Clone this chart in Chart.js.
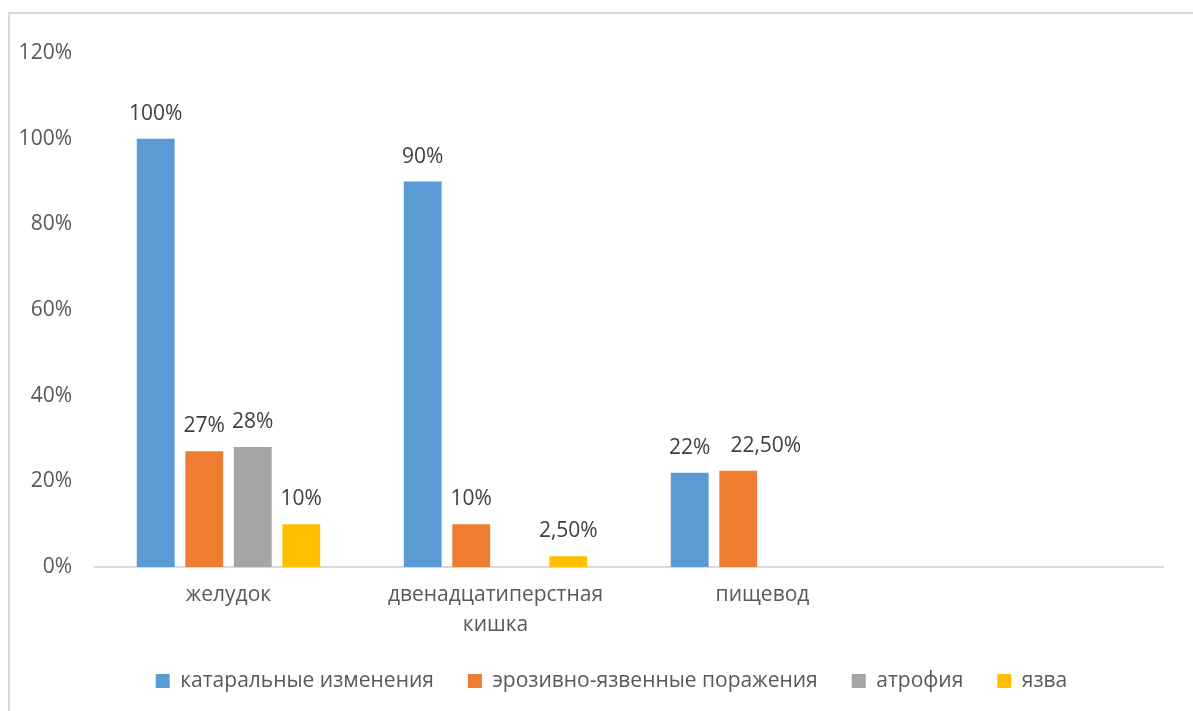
<!DOCTYPE html>
<html>
<head>
<meta charset="utf-8">
<script src="https://cdn.jsdelivr.net/npm/chart.js@4/dist/chart.umd.min.js"></script>
<style>
    html, body { margin: 0; padding: 0; background: #fff; overflow: hidden; }
    body { width: 1193px; height: 711px; position: relative; }
    .frame {
        position: absolute; left: 8px; top: 12px;
        width: 1300px; height: 800px;
        border: 2px solid #d9d9d9;
    }
    #myChart { position: absolute; left: 0; top: 0; }
</style>
</head>
<body>
<div class="frame"></div>
<canvas id="myChart" width="1213" height="711"></canvas>
<script>
    // categories (4th slot is empty on purpose)
    var categories = ['желудок', ['двенадцатиперстная', 'кишка'], 'пищевод', ''];

    var seriesNames = ['катаральные изменения', 'эрозивно-язвенные поражения', 'атрофия', 'язва'];
    var catarrhal = [100, 90, 22, null];
    var erosive = [27, 10, 22.5, null];
    var atrophy = [28, null, null, null];
    var ulcer = [10, 2.5, null, null];

    var yTicks = [0, 20, 40, 60, 80, 100, 120];

    var colors = ['#5b9bd5', '#ed7d31', '#a5a5a5', '#ffc000'];
    var fontFamily = '"Open Sans", sans-serif';

    function pct(v) {
        if (Number.isInteger(v)) return v + '%';
        return v.toFixed(2).replace('.', ',') + '%';
    }

    // value labels above every bar, pushed right if they run into the previous one
    var barLabels = {
        id: 'barLabels',
        afterDatasetsDraw: function (chart) {
            var ctx = chart.ctx;
            ctx.save();
            ctx.font = '21px ' + fontFamily;
            ctx.fillStyle = '#404040';
            ctx.textAlign = 'left';
            ctx.textBaseline = 'alphabetic';
            categories.forEach(function (c, j) {
                var lastRight = -Infinity;
                chart.data.datasets.forEach(function (ds, i) {
                    var v = ds.data[j];
                    if (v === null || v === undefined) return;
                    var bar = chart.getDatasetMeta(i).data[j];
                    var text = pct(v);
                    var w = ctx.measureText(text).width;
                    var left = bar.x - w / 2;
                    if (left < lastRight) left = lastRight + 20;
                    ctx.fillText(text, left, bar.y - 19);
                    lastRight = left + w;
                });
            });
            ctx.restore();
        }
    };

    var dataSets = [catarrhal, erosive, atrophy, ulcer].map(function (values, i) {
        return {
            label: seriesNames[i],
            data: values,
            backgroundColor: colors[i],
            borderWidth: 0,
            categoryPercentage: 0.727,
            barPercentage: 0.78
        };
    });

    var ctx = document.getElementById('myChart').getContext('2d');
    var chart = new Chart(ctx, {
        type: 'bar',
        data: {
            labels: categories,
            datasets: dataSets
        },
        plugins: [barLabels],
        options: {
            responsive: false,
            animation: false,
            devicePixelRatio: 1,
            layout: {
                padding: { left: 10, right: 0, top: 53, bottom: 9.5 }
            },
            plugins: {
                tooltip: { enabled: false },
                legend: {
                    position: 'bottom',
                    labels: {
                        boxWidth: 14,
                        boxHeight: 14,
                        padding: 34,
                        color: '#595959',
                        font: { family: fontFamily, size: 21 }
                    }
                }
            },
            scales: {
                x: {
                    grid: { display: false, drawTicks: false },
                    border: { display: true, color: '#d9d9d9', width: 2 },
                    ticks: {
                        color: '#595959',
                        padding: 13,
                        maxRotation: 0,
                        autoSkip: false,
                        font: { family: fontFamily, size: 21, lineHeight: 1.43 }
                    },
                    afterFit: function (scale) { scale.height = 69.5; }
                },
                y: {
                    min: yTicks[0],
                    max: yTicks[yTicks.length - 1],
                    afterBuildTicks: function (scale) {
                        scale.ticks = yTicks.map(function (v) { return { value: v }; });
                    },
                    grid: { display: false, drawTicks: false },
                    border: { display: false },
                    ticks: {
                        color: '#595959',
                        padding: 23,
                        font: { family: fontFamily, size: 21 },
                        callback: function (v) { return v + '%'; }
                    },
                    afterFit: function (scale) { scale.width = 85; }
                },
                // empty right-hand strip so the plot ends before the legend's right edge
                yRight: {
                    position: 'right',
                    grid: { display: false, drawTicks: false },
                    border: { display: false },
                    ticks: { display: false },
                    afterFit: function (scale) { scale.width = 50; }
                }
            }
        }
    });
</script>
</body>
</html>
